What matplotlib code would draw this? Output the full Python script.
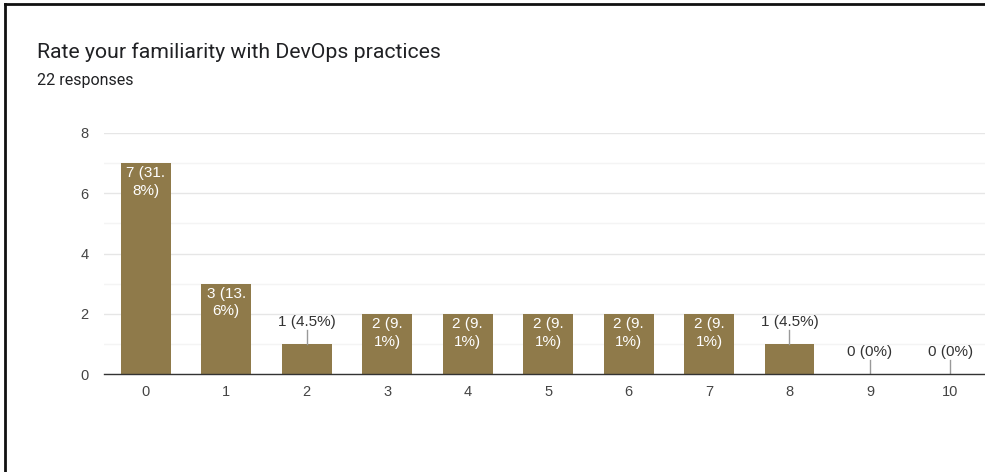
import matplotlib
matplotlib.use("Agg")
import matplotlib.pyplot as plt
from matplotlib.lines import Line2D

plt.rcParams['font.family'] = ['Roboto', 'DejaVu Sans']
chart_font = ['Liberation Sans', 'DejaVu Sans']

title = "Rate your familiarity with DevOps practices"
subtitle = "22 responses"
ratings = [0, 1, 2, 3, 4, 5, 6, 7, 8, 9, 10]
counts = [7, 3, 1, 2, 2, 2, 2, 2, 1, 0, 0]
labels = ["7 (31.\n8%)", "3 (13.\n6%)", "1 (4.5%)", "2 (9.\n1%)", "2 (9.\n1%)",
          "2 (9.\n1%)", "2 (9.\n1%)", "2 (9.\n1%)", "1 (4.5%)", "0 (0%)", "0 (0%)"]
y_ticks = [0, 2, 4, 6, 8]

bar_color = "#8f7a4a"

fig = plt.figure(figsize=(9.85, 4.72), dpi=100)
fig.patch.set_facecolor("white")

# frame lines on top and left edges of the figure
fig.add_artist(Line2D([0.005, 0.005], [0, 0.992], transform=fig.transFigure,
                      color="#111111", lw=2))
fig.add_artist(Line2D([0.005, 1.0], [0.992, 0.992], transform=fig.transFigure,
                      color="#111111", lw=2))

fig.text(37 / 985, 1 - 52 / 472, title, fontsize=15.3, color="#202124",
         va="center", ha="left")
fig.text(37 / 985, 1 - 81 / 472, subtitle, fontsize=11.5, color="#202124",
         va="center", ha="left")

ax = fig.add_axes([104 / 985, 98 / 472, 1 - 104 / 985, (374 - 133) / 472])
ax.bar(ratings, counts, width=0.62, color=bar_color, zorder=3)

ax.set_xlim(-0.52, 10.43)
ax.set_ylim(0, 8)
ax.set_yticks(y_ticks)
ax.set_yticks([1, 3, 5, 7], minor=True)
ax.set_xticks(ratings)
ax.set_xticklabels([str(r) for r in ratings])
for lab in ax.get_xticklabels() + ax.get_yticklabels():
    lab.set_family(chart_font)
ax.grid(axis="y", which="major", color="#e6e6e6", lw=1, zorder=0)
ax.grid(axis="y", which="minor", color="#f4f4f4", lw=1, zorder=0)
ax.tick_params(axis="both", which="both", length=0, labelsize=10.5,
               labelcolor="#444444")
ax.tick_params(axis="y", pad=11)
ax.tick_params(axis="x", pad=8)
for side in ("top", "right", "left"):
    ax.spines[side].set_visible(False)
ax.spines["bottom"].set_color("#333333")
ax.spines["bottom"].set_linewidth(1)
ax.spines["bottom"].set_zorder(4)

for x, v, lab in zip(ratings, counts, labels):
    if v >= 2:
        ax.text(x, v - 0.1, lab, ha="center", va="top", color="white",
                fontsize=11, linespacing=1.35, zorder=5, family=chart_font)
    else:
        ax.plot([x, x], [v, v + 0.45], color="#999999", lw=1, zorder=4)
        ax.text(x, v + 0.73, lab, ha="center", va="center", color="#333333",
                fontsize=11, zorder=5, family=chart_font)

fig.savefig("out.png", dpi=100, facecolor="white")
